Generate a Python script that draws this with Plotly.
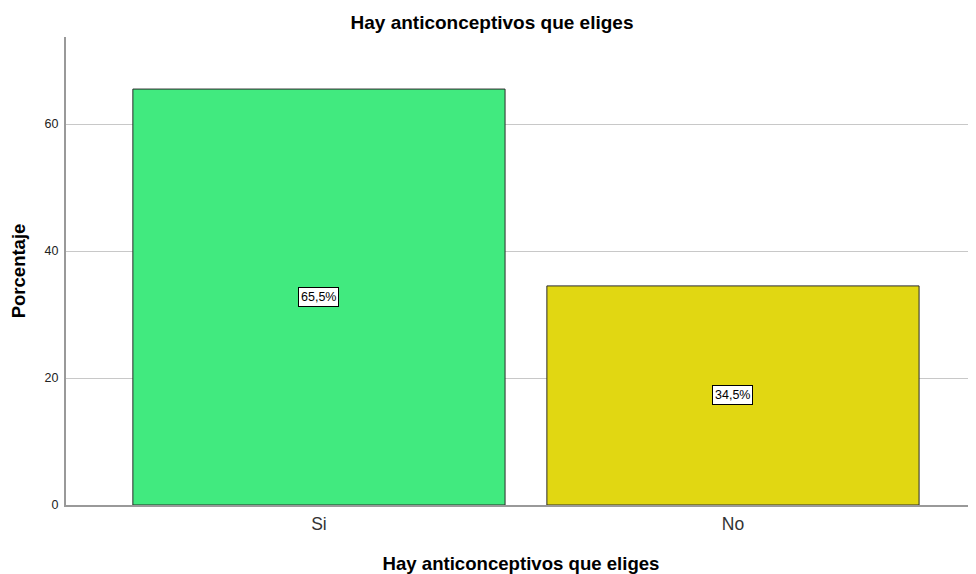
import plotly.graph_objects as go

categories = ["Si", "No"]
values = [65.5, 34.5]
labels = ["65,5%", "34,5%"]
colors = ["#41EA7F", "#E1D712"]
y_ticks = [0, 20, 40, 60]

x_pos = list(range(len(categories)))

fig = go.Figure()
fig.add_trace(go.Bar(
    x=x_pos, y=values, width=0.899,
    marker=dict(color=colors, line=dict(color="#2b2b2b", width=1)),
    hoverinfo="skip",
))

for xi, v, lab in zip(x_pos, values, labels):
    fig.add_annotation(
        x=xi, y=v / 2, text=lab, showarrow=False,
        font=dict(family="Arial, Liberation Sans", size=12.5, color="#000"),
        bgcolor="white", bordercolor="#000", borderwidth=1, borderpad=2,
    )

fig.update_layout(
    width=968, height=566,
    margin=dict(l=58, r=0, t=29, b=69),
    paper_bgcolor="white", plot_bgcolor="white",
    showlegend=False,
    title=dict(text="<b>Hay anticonceptivos que eliges</b>", x=0.5, xref="container",
               y=0.975, yref="container", yanchor="middle",
               font=dict(family="Arial, Liberation Sans", size=19, color="#000")),
    font=dict(family="Arial, Liberation Sans"),
)
fig.update_xaxes(
    range=[-0.611, 1.587], tickvals=x_pos, ticktext=categories,
    showgrid=False, zeroline=False, showline=True, linecolor="#999", linewidth=2,
    ticks="",
    tickfont=dict(size=17.5, color="#333"), ticklabelstandoff=2,
    title=dict(text="<b>Hay anticonceptivos que eliges</b>", standoff=24,
               font=dict(size=18.6, color="#000")),
)
fig.update_yaxes(
    range=[0, 73.7], tickvals=y_ticks,
    showgrid=True, gridcolor="#c8c8c8", gridwidth=1,
    zeroline=False, showline=True, linecolor="#999", linewidth=2,
    ticks="", tickfont=dict(size=12.5, color="#222"), ticklabelstandoff=3,
    title=dict(text="<b>Porcentaje</b>", standoff=18,
               font=dict(size=18.5, color="#000")),
)

fig.write_html("out.html")
